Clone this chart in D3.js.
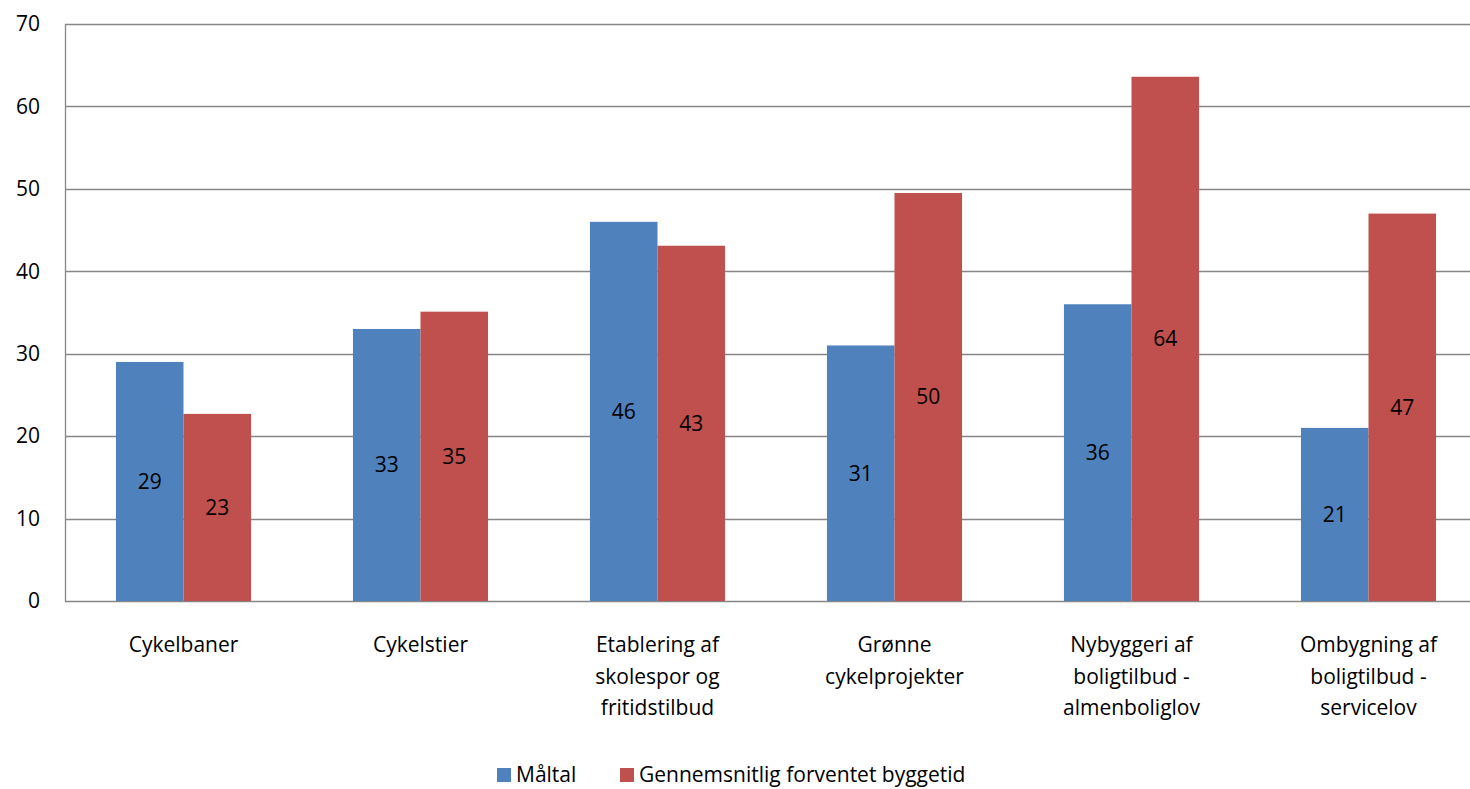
<!DOCTYPE html>
<html>
<head>
<meta charset="utf-8">
<script src="https://cdn.jsdelivr.net/npm/d3@7"></script>
<style>
  html, body { margin: 0; padding: 0; background: #fff; }
  svg { display: block; font-family: "Open Sans", "Noto Sans", sans-serif; }
</style>
</head>
<body>
<svg id="chart" width="1470" height="789"></svg>
<script>
const categories = [
  ["Cykelbaner"],
  ["Cykelstier"],
  ["Etablering af", "skolespor og", "fritidstilbud"],
  ["Grønne", "cykelprojekter"],
  ["Nybyggeri af", "boligtilbud -", "almenboliglov"],
  ["Ombygning af", "boligtilbud -", "servicelov"]
];
const seriesNames = ["Måltal", "Gennemsnitlig forventet byggetid"];
const maltal = [29, 33, 46, 31, 36, 21];
const byggetid = [22.7, 35.1, 43.1, 49.5, 63.6, 47.0];
const yTicks = [0, 10, 20, 30, 40, 50, 60, 70];
const colors = ["#4F81BD", "#C0504D"];

(function () {
const svg = d3.select("#chart");
const pLeft = 65, pRight = 1487, pTop = 24, pBottom = 601;
const fs = 21;
const catKeys = categories.map((c, i) => i);

const x0 = d3.scaleBand().domain(catKeys).range([pLeft, pRight]).paddingInner(0.43).paddingOuter(0.215);
const x1 = d3.scaleBand().domain([0, 1]).range([0, x0.bandwidth()]);
const y = d3.scaleLinear().domain([0, 70]).range([pBottom, pTop]);

// gridlines
svg.append("g").selectAll("line").data(yTicks).join("line")
  .attr("x1", pLeft).attr("x2", 1470)
  .attr("y1", d => Math.round(y(d)) + 0.5).attr("y2", d => Math.round(y(d)) + 0.5)
  .attr("stroke", "#868686").attr("stroke-width", 1.3);

// y axis line
svg.append("line").attr("x1", pLeft + 0.5).attr("x2", pLeft + 0.5)
  .attr("y1", pTop).attr("y2", pBottom + 0.5)
  .attr("stroke", "#868686").attr("stroke-width", 1.3);

// y tick labels
svg.append("g").selectAll("text").data(yTicks).join("text")
  .attr("x", 40).attr("y", d => y(d)).attr("dy", "0.35em")
  .attr("text-anchor", "end").attr("font-size", fs).attr("fill", "#000")
  .text(d => d);

const data = catKeys.map(i => [maltal[i], byggetid[i]]);

const groups = svg.append("g").selectAll("g").data(data).join("g")
  .attr("transform", (d, i) => `translate(${x0(i)},0)`);

groups.selectAll("rect").data(d => d.map((v, s) => ({ v, s }))).join("rect")
  .attr("x", d => x1(d.s)).attr("width", x1.bandwidth())
  .attr("y", d => y(d.v)).attr("height", d => y(0) - y(d.v))
  .attr("fill", d => colors[d.s]);

groups.selectAll("text").data(d => d.map((v, s) => ({ v, s }))).join("text")
  .attr("x", d => x1(d.s) + x1.bandwidth() / 2)
  .attr("y", d => (y(d.v) + y(0)) / 2).attr("dy", "0.35em")
  .attr("text-anchor", "middle").attr("font-size", fs).attr("fill", "#000")
  .text(d => Math.round(d.v));

// category labels
const catG = svg.append("g").selectAll("text").data(categories).join("text")
  .attr("x", (d, i) => x0(i) + x0.bandwidth() / 2)
  .attr("y", 652)
  .attr("text-anchor", "middle").attr("font-size", fs).attr("fill", "#000");
catG.selectAll("tspan").data(d => d).join("tspan")
  .attr("x", function () { return d3.select(this.parentNode).attr("x"); })
  .attr("dy", (d, i) => i === 0 ? 0 : 31.5)
  .text(d => d);

// legend
const legend = svg.append("g");
const legendX = [497, 620];
seriesNames.forEach((name, s) => {
  legend.append("rect").attr("x", legendX[s]).attr("y", 768).attr("width", 14).attr("height", 14).attr("fill", colors[s]);
  legend.append("text").attr("x", legendX[s] + 19).attr("y", 782)
    .attr("font-size", fs).attr("fill", "#000").text(name);
});
})();
</script>
</body>
</html>
